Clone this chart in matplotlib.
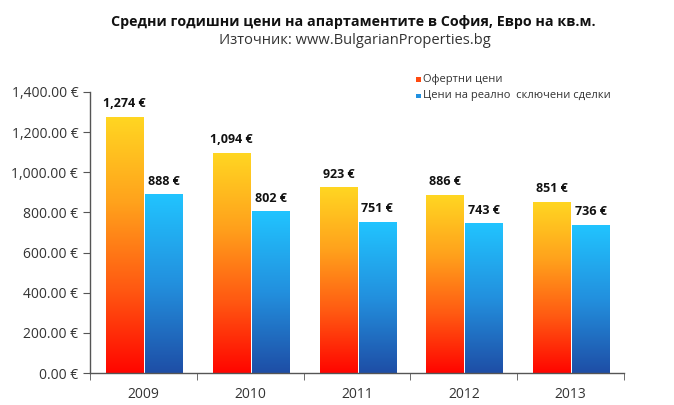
import matplotlib
matplotlib.use('Agg')
import matplotlib.pyplot as plt
from matplotlib.colors import LinearSegmentedColormap
import numpy as np

years = ['2009', '2010', '2011', '2012', '2013']
offer = [1274, 1094, 923, 886, 851]
deals = [888, 802, 751, 743, 736]
offer_labels = ['1,274 €', '1,094 €', '923 €', '886 €', '851 €']
deals_labels = ['888 €', '802 €', '751 €', '743 €', '736 €']

plt.rcParams['font.family'] = ['Open Sans', 'DejaVu Sans']

orange_cmap = LinearSegmentedColormap.from_list('or', ['#ff0500', '#ff5a12', '#ffa21c', '#ffd622'])
blue_cmap = LinearSegmentedColormap.from_list('bl', ['#1e4ea6', '#2390de', '#21c4ff'])

fig = plt.figure(figsize=(6.74, 4.05), dpi=100)
ax = fig.add_axes([0.1335, 0.079, 0.7925, 0.694])

x = np.arange(len(years))
w = 0.35
grad = np.linspace(0, 1, 256).reshape(-1, 1)

def gradient_bars(xs, vals, cmap):
    bars = ax.bar(xs, vals, w, color='none', edgecolor='none')
    for b in bars:
        x0, h = b.get_x(), b.get_height()
        ax.imshow(grad, cmap=cmap, origin='lower', aspect='auto',
                  extent=[x0, x0 + b.get_width(), 0, h], zorder=2)
    return bars

b1 = gradient_bars(x - 0.175, offer, orange_cmap)
b2 = gradient_bars(x + 0.19, deals, blue_cmap)

for bars, labels in [(b1, offer_labels), (b2, deals_labels)]:
    for b, t in zip(bars, labels):
        ax.annotate(t, (b.get_x() + b.get_width() / 2, b.get_height()), xytext=(0, 5),
                    textcoords='offset points', ha='center', va='bottom',
                    fontsize=9, fontweight='bold', color='#111111')

ax.set_xlim(-0.5, len(years) - 0.5)
ax.set_ylim(0, 1400)
ax.set_yticks(np.arange(0, 1401, 200))
ax.set_yticklabels([f'{v:,.2f} €' for v in np.arange(0, 1401, 200)])
ax.set_xticks(x)
ax.set_xticklabels(years)
ax.set_xticks(np.arange(-0.5, len(years), 1), minor=True)
ax.tick_params(axis='x', which='major', length=0, pad=10, labelsize=10, colors='#333333')
ax.tick_params(axis='x', which='minor', length=5, color='#555555')
ax.tick_params(axis='y', length=5, color='#555555', labelsize=10, labelcolor='#333333')

for s in ['top', 'right']:
    ax.spines[s].set_visible(False)
for s in ['left', 'bottom']:
    ax.spines[s].set_color('#555555')
    ax.spines[s].set_linewidth(1)

fig.text(0.524, 0.945, 'Средни годишни цени на апартаментите в София, Евро на кв.м.',
         ha='center', va='center', fontsize=10.3, fontweight='bold', color='#111111')
fig.text(0.527, 0.901, 'Източник: www.BulgarianProperties.bg',
         ha='center', va='center', fontsize=10.5, color='#333333')

fig.patches.append(plt.Rectangle((0.617, 0.797), 0.007, 0.012, transform=fig.transFigure,
                                 facecolor='#ff4a10', edgecolor='none'))
fig.patches.append(plt.Rectangle((0.617, 0.757), 0.007, 0.012, transform=fig.transFigure,
                                 facecolor='#2190e0', edgecolor='none'))
fig.text(0.628, 0.803, 'Офертни цени', ha='left', va='center', fontsize=8, color='#333333')
fig.text(0.628, 0.763, 'Цени на реално  сключени сделки', ha='left', va='center',
         fontsize=8, color='#333333')

fig.savefig('out.png', dpi=100)
